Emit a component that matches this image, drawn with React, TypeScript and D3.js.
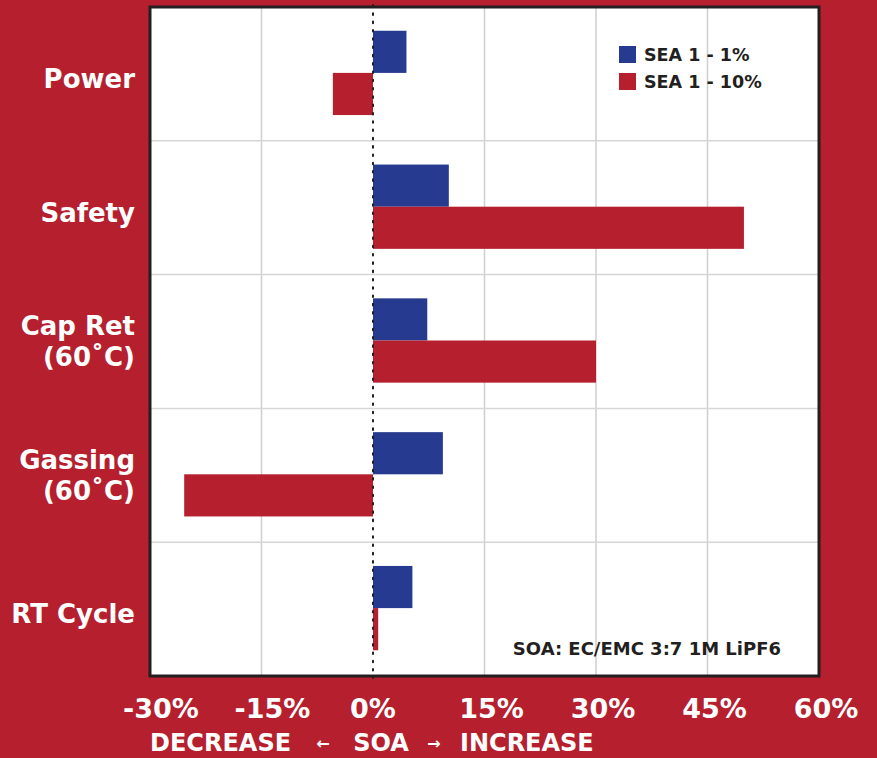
import React from 'react';
import * as d3 from 'd3';

// categories top -> bottom, label lines
const categories = ['Power', 'Safety', 'Cap Ret', 'Gassing', 'RT Cycle'];
const categoryLines = [['Power'], ['Safety'], ['Cap Ret', '(60˚C)'], ['Gassing', '(60˚C)'], ['RT Cycle']];
const series = ['SEA 1 - 1%', 'SEA 1 - 10%'];
const sea1 = [4.5, 10.2, 7.3, 9.4, 5.3];
const sea10 = [-5.4, 49.9, 30.0, -25.4, 0.7];
const ticks = [-30, -15, 0, 15, 30, 45, 60];

const RED = '#B51F2E';
const BLUE = '#263A8F';
const INK = '#231F20';
const FONT = '"DejaVu Sans", sans-serif';

export default function App() {
  const W = 877, H = 758;
  const left = 150, right = 819, top = 7, bottom = 676;

  const x = d3.scaleLinear().domain([-30, 60]).range([left, right]);
  const y = d3.scaleBand().domain(categories).range([top, bottom]).paddingInner(0.37).paddingOuter(0.185);
  const rowY = d3.scaleBand().domain(categories).range([top, bottom]);
  const bh = y.bandwidth() / 2;
  const colors = [BLUE, RED];
  const vals = [sea1, sea10];

  return (
    <svg width={W} height={H} style={{ position: 'absolute', left: 0, top: 0 }} fontFamily={FONT}>
      <rect width={W} height={H} fill={RED} />
      <rect x={left} y={top} width={right - left} height={bottom - top} fill="#fff" />
      {/* vertical grid */}
      {ticks.filter(t => t !== 0).map(t => (
        <line key={t} x1={x(t)} x2={x(t)} y1={top} y2={bottom} stroke="#cfcfcf" strokeWidth={1.5} />
      ))}
      {/* row separators */}
      {categories.slice(1).map(c => (
        <line key={c} x1={left} x2={right} y1={rowY(c)} y2={rowY(c)} stroke="#d6d6d6" strokeWidth={1.5} />
      ))}
      {/* bars */}
      {vals.map((arr, si) => arr.map((v, i) => (
        <rect key={si + '-' + i}
          x={Math.min(x(0), x(v))} width={Math.abs(x(v) - x(0))}
          y={(y(categories[i]) as number) + si * bh - 1} height={bh}
          fill={colors[si]} />
      )))}
      {/* zero dotted line */}
      <line x1={x(0)} x2={x(0)} y1={top - 2} y2={bottom + 2} stroke={INK} strokeWidth={2}
        strokeDasharray="1.6,6.7" strokeLinecap="round" />
      {/* frame */}
      <rect x={left} y={top} width={right - left} height={bottom - top} fill="none" stroke={INK} strokeWidth={3} />
      {/* legend */}
      {series.map((s, i) => (
        <g key={s} transform={`translate(619, ${46 + i * 27})`}>
          <rect width={17} height={17} fill={colors[i]} />
          <text x={25} y={15} fontSize={17.5} fontWeight={700} fill={INK}>{s}</text>
        </g>
      ))}
      <text x={781} y={655} textAnchor="end" fontSize={18} fontWeight={700} fill={INK}>SOA: EC/EMC 3:7 1M LiPF6</text>
      {/* category labels */}
      {categoryLines.map((lines, i) => {
        const cy = (rowY(categories[i]) as number) + rowY.bandwidth() / 2;
        const y0 = lines.length === 1 ? cy + 5 : cy - (lines.length - 1) * 31 / 2;
        return lines.map((l, j) => (
          <text key={i + '-' + j} x={135} y={y0 + j * 31} dy="0.35em" textAnchor="end"
            fontSize={26} fontWeight={700} fill="#fff">{l}</text>
        ));
      })}
      {/* x tick labels */}
      {ticks.map(t => (
        <text key={t} x={x(t) + (t === 0 ? 0 : t < 0 ? 11 : 7)} y={718} textAnchor="middle" fontSize={27} fontWeight={700} fill="#fff">
          {String(t) + '%'}
        </text>
      ))}
      <text x={150} y={751} fontSize={24} fontWeight={700} fill="#fff">DECREASE</text>
      <text x={323} y={749} textAnchor="middle" fontSize={16} fontWeight={700} fill="#fff">←</text>
      <text x={381} y={751} textAnchor="middle" fontSize={24} fontWeight={700} fill="#fff">SOA</text>
      <text x={434} y={749} textAnchor="middle" fontSize={16} fontWeight={700} fill="#fff">→</text>
      <text x={460} y={751} fontSize={24} fontWeight={700} fill="#fff">INCREASE</text>
    </svg>
  );
}
